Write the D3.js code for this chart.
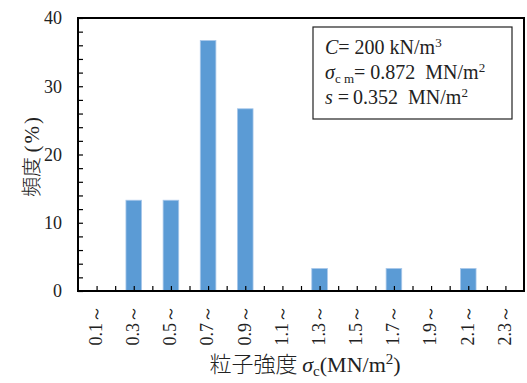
<!DOCTYPE html>
<html>
<head>
<meta charset="utf-8">
<script src="https://cdn.jsdelivr.net/npm/d3@7"></script>
<style>
  body { margin: 0; background: #fff; }
  svg { display: block; }
  text { font-family: "Liberation Serif", "Times New Roman", serif; fill: #222; }
  .cjk { font-family: "Noto Sans CJK JP", sans-serif; }
</style>
</head>
<body>
<div id="chart"></div>
<script>
const CATEGORIES = ["0.1～", "0.3～", "0.5～", "0.7～", "0.9～", "1.1～", "1.3～", "1.5～", "1.7～", "1.9～", "2.1～", "2.3～"];
const FREQUENCY = [0, 13.3, 13.3, 36.7, 26.7, 0, 3.3, 0, 3.3, 0, 3.3, 0];
const Y_TICKS = [0, 10, 20, 30, 40];
const Y_MINOR = d3.range(0, 41, 2);

const WIDTH = 527, HEIGHT = 383;
const PLOT = { left: 78, right: 524, top: 18, bottom: 291 };
const NB = "\u00a0";

const svg = d3.select("#chart").append("svg")
    .attr("width", WIDTH)
    .attr("height", HEIGHT);

const x = d3.scaleBand()
    .domain(CATEGORIES)
    .range([PLOT.left, PLOT.right])
    .paddingInner(0.58)
    .paddingOuter(0.29);

const y = d3.scaleLinear()
    .domain([0, 40])
    .range([PLOT.bottom, PLOT.top]);

// bars
svg.append("g").selectAll("rect")
    .data(FREQUENCY.map((v, i) => ({ cat: CATEGORIES[i], v })).filter(d => d.v > 0))
    .join("rect")
    .attr("x", d => x(d.cat))
    .attr("y", d => y(d.v))
    .attr("width", x.bandwidth())
    .attr("height", d => y(0) - y(d.v))
    .attr("fill", "#5b9bd5")
    .attr("stroke", "#a9c8ea")
    .attr("stroke-width", 0.8);

// y minor ticks (inward)
svg.append("g")
    .attr("transform", `translate(${PLOT.left},0)`)
    .call(d3.axisLeft(y).tickValues(Y_MINOR).tickSize(-5).tickFormat(""))
    .call(g => g.select(".domain").remove())
    .call(g => g.selectAll("line").attr("stroke", "#000").attr("stroke-width", 1.2));

// y labels
svg.append("g")
    .attr("transform", `translate(${PLOT.left},0)`)
    .call(d3.axisLeft(y).tickValues(Y_TICKS).tickSize(0).tickPadding(16))
    .call(g => g.select(".domain").remove())
    .call(g => g.selectAll("text")
        .attr("font-size", 18)
        .attr("fill", "#222"));

// x ticks at category boundaries and centres (inward)
const half = (x.step() - x.bandwidth()) / 2;
const xTickPos = [];
CATEGORIES.forEach((c, i) => {
    if (i > 0) xTickPos.push(x(c) - half);
    xTickPos.push(x(c) + x.bandwidth() / 2);
});
const xTickScale = d3.scaleIdentity().domain([PLOT.left, PLOT.right]);
svg.append("g")
    .attr("transform", `translate(0,${PLOT.bottom})`)
    .call(d3.axisBottom(xTickScale).tickValues(xTickPos).tickSize(-5).tickFormat(""))
    .call(g => g.select(".domain").remove())
    .call(g => g.selectAll("line").attr("stroke", "#000").attr("stroke-width", 1.2));

// x labels, rotated
svg.append("g").selectAll("text")
    .data(CATEGORIES)
    .join("text")
    .attr("transform", d => `translate(${x(d) + x.bandwidth() / 2 - 1},305) rotate(-90)`)
    .attr("dy", "0.35em")
    .attr("text-anchor", "end")
    .attr("font-size", 18)
    .text(d => d);

// plot frame
svg.append("rect")
    .attr("x", PLOT.left)
    .attr("y", PLOT.top)
    .attr("width", PLOT.right - PLOT.left)
    .attr("height", PLOT.bottom - PLOT.top)
    .attr("fill", "none")
    .attr("stroke", "#000")
    .attr("stroke-width", 2);

// legend box
svg.append("rect")
    .attr("x", 313)
    .attr("y", 27)
    .attr("width", 199)
    .attr("height", 92)
    .attr("fill", "#fff")
    .attr("stroke", "#222")
    .attr("stroke-width", 1.2);

const legend = svg.append("g").attr("font-size", 20);
const l1 = legend.append("text").attr("x", 325).attr("y", 54);
l1.append("tspan").attr("font-style", "italic").text("C");
l1.append("tspan").text("=" + NB + "200" + NB + "kN/m");
l1.append("tspan").attr("font-size", 13).attr("dy", -7).text("3");

const l2 = legend.append("text").attr("x", 325).attr("y", 79);
l2.append("tspan").attr("font-style", "italic").text("σ");
l2.append("tspan").attr("font-size", 13).attr("dy", 4).text("c" + NB + "m");
l2.append("tspan").attr("dy", -4).text("=" + NB + "0.872" + NB + NB + "MN/m");
l2.append("tspan").attr("font-size", 13).attr("dy", -7).text("2");

const l3 = legend.append("text").attr("x", 325).attr("y", 104);
l3.append("tspan").attr("font-style", "italic").text("s");
l3.append("tspan").text(NB + "=" + "\u2009" + "0.352" + NB + NB + "MN/m");
l3.append("tspan").attr("font-size", 13).attr("dy", -7).text("2");

// x title
const xt = svg.append("text")
    .attr("x", 305)
    .attr("y", 372)
    .attr("text-anchor", "middle")
    .attr("font-size", 22);
xt.append("tspan").attr("class", "cjk").attr("font-weight", 300).text("粒子強度" + NB);
xt.append("tspan").attr("font-style", "italic").text("σ");
xt.append("tspan").attr("font-size", 15).attr("dy", 4).text("c");
xt.append("tspan").attr("dy", -4).text("(MN/m");
xt.append("tspan").attr("font-size", 15).attr("dy", -8).text("2");
xt.append("tspan").attr("dy", 8).text(")");

// y title
const yt = svg.append("text")
    .attr("transform", "translate(39,156) rotate(-90)")
    .attr("text-anchor", "middle")
    .attr("font-size", 20);
yt.append("tspan").attr("class", "cjk").attr("font-weight", 300).text("頻度" + NB);
yt.append("tspan").attr("letter-spacing", 2).attr("font-size", 21).text("(%)");
</script>
</body>
</html>
